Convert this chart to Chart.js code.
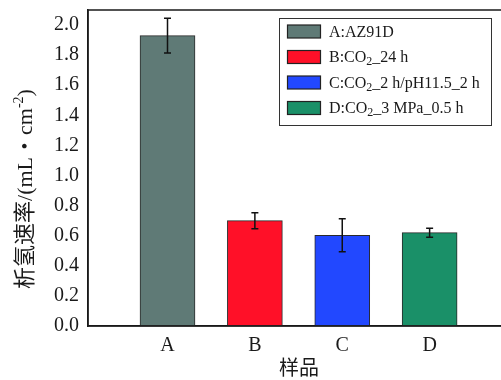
<!DOCTYPE html>
<html><head><meta charset="utf-8">
<script src="https://cdn.jsdelivr.net/npm/chart.js@4"></script>
<style>html,body{margin:0;padding:0;background:#fff;overflow:hidden;width:501px;height:380px}
#wrap{width:520px;height:380px;position:relative}</style></head>
<body><div id="wrap"><canvas id="c" width="520" height="380"></canvas></div>
<script>
// ---- data ----
const categories = ['A', 'B', 'C', 'D'];
const rates = [1.93, 0.70, 0.603, 0.62];
const errors = [0.115, 0.053, 0.11, 0.03];
const legendLabels = ['A:AZ91D', 'B:CO2_24 h', 'C:CO2_2 h/pH11.5_2 h', 'D:CO2_3 MPa_0.5 h'];
const yTickValues = [0.0, 0.2, 0.4, 0.6, 0.8, 1.0, 1.2, 1.4, 1.6, 1.8, 2.0];
const yTitle = ['析氢速率/(mL・cm', '-2', ')'];
const xTitle = '样品';

// ---- styles ----
const colors = ['#5f7a76', '#ff1028', '#2248ff', '#1a9068'];
const SERIF = "'Liberation Serif','Noto Sans CJK SC'";
const INK = '#1a1a1a';

function drawMixed(ctx, text, x, y, size) {
  const parts = text.split('CO2');
  let cx = x;
  parts.forEach((p, i) => {
    ctx.font = size + 'px ' + SERIF;
    ctx.fillText(p, cx, y); cx += ctx.measureText(p).width;
    if (i < parts.length - 1) {
      ctx.fillText('CO', cx, y); cx += ctx.measureText('CO').width;
      ctx.font = Math.round(size * 0.72) + 'px ' + SERIF;
      ctx.fillText('2', cx, y + 4); cx += ctx.measureText('2').width;
    }
  });
}

const extras = {
  id: 'extras',
  beforeDraw(chart) {
    const ctx = chart.ctx;
    ctx.save(); ctx.fillStyle = '#fff'; ctx.fillRect(0, 0, chart.width, chart.height); ctx.restore();
  },
  afterDatasetsDraw(chart) {
    const ctx = chart.ctx;
    const ys = chart.scales.y;
    const meta = chart.getDatasetMeta(0);
    ctx.save();
    ctx.strokeStyle = '#111'; ctx.lineWidth = 1.5;
    meta.data.forEach((bar, i) => {
      const yt = ys.getPixelForValue(rates[i] + errors[i]);
      const yb = ys.getPixelForValue(rates[i] - errors[i]);
      const x = bar.x;
      ctx.beginPath();
      ctx.moveTo(x, yt); ctx.lineTo(x, yb);
      ctx.moveTo(x - 3.5, yt); ctx.lineTo(x + 3.5, yt);
      ctx.moveTo(x - 3.5, yb); ctx.lineTo(x + 3.5, yb);
      ctx.stroke();
    });
    const a = chart.chartArea;
    ctx.strokeStyle = INK; ctx.lineWidth = 1.5;
    ctx.strokeRect(a.left, a.top, a.right - a.left, a.bottom - a.top);
    ctx.fillStyle = '#fff';
    ctx.fillRect(279.5, 18.5, 212, 107);
    ctx.strokeStyle = '#333'; ctx.lineWidth = 1;
    ctx.strokeRect(279.5, 18.5, 212, 107);
    legendLabels.forEach((lab, i) => {
      const cy = 31.5 + i * 25.5;
      ctx.fillStyle = colors[i];
      ctx.fillRect(287.5, cy - 6.5, 33, 13);
      ctx.strokeStyle = '#222'; ctx.lineWidth = 1.2;
      ctx.strokeRect(287.5, cy - 6.5, 33, 13);
      ctx.fillStyle = INK; ctx.textBaseline = 'middle'; ctx.textAlign = 'left';
      drawMixed(ctx, lab, 329, cy + 1, 16);
    });
    ctx.translate(26, 189); ctx.rotate(-Math.PI / 2);
    ctx.textBaseline = 'middle'; ctx.textAlign = 'left'; ctx.fillStyle = INK;
    const f1 = '22px ' + SERIF, f2 = '14px ' + SERIF;
    ctx.font = f1; const w1 = ctx.measureText(yTitle[0]).width, w3 = ctx.measureText(yTitle[2]).width;
    ctx.font = f2; const w2 = ctx.measureText(yTitle[1]).width;
    let sx = -(w1 + w2 + w3) / 2;
    ctx.font = f1; ctx.fillText(yTitle[0], sx, 0); sx += w1;
    ctx.font = f2; ctx.fillText(yTitle[1], sx, -7); sx += w2;
    ctx.font = f1; ctx.fillText(yTitle[2], sx, 0);
    ctx.restore();
  }
};

new Chart(document.getElementById('c'), {
  type: 'bar',
  data: {
    datasets: [{
      data: rates.map((v, i) => ({ x: i + 1, y: v })),
      backgroundColor: colors,
      borderColor: '#2a2a2a',
      borderWidth: 1,
      borderSkipped: false,
      barThickness: 55
    }]
  },
  options: {
    responsive: false,
    devicePixelRatio: 1,
    animation: false,
    events: [],
    layout: { padding: { top: 0, right: 10, left: 0, bottom: 0 } },
    plugins: { legend: { display: false }, tooltip: { enabled: false } },
    scales: {
      x: {
        type: 'linear', min: 0.09, max: 4.92, offset: false, bounds: 'data',
        grid: { display: false, drawTicks: false, offset: false },
        border: { color: INK, width: 1.5 },
        afterBuildTicks: s => { s.ticks = categories.map((c, i) => ({ value: i + 1 })); },
        afterFit: s => { s.height = 54; s.paddingLeft = 0; s.paddingRight = 0; },
        ticks: { font: { family: SERIF, size: 20 }, color: INK, padding: 8, autoSkip: false, maxRotation: 0,
          callback: v => categories[v - 1] ?? '' },
        title: { display: true, text: xTitle, font: { family: SERIF, size: 20 }, color: INK, padding: { top: 0, bottom: -2 } }
      },
      y: {
        min: 0, max: 2.1,
        grid: { display: false, drawTicks: false },
        border: { color: INK, width: 1.5 },
        afterBuildTicks: s => { s.ticks = yTickValues.map(v => ({ value: v })); },
        afterFit: s => { s.width = 88; s.paddingTop = 10; s.paddingBottom = 0; },
        ticks: { font: { family: SERIF, size: 20 }, color: INK, padding: 9, autoSkip: false,
          callback: v => v.toFixed(1) }
      }
    }
  },
  plugins: [extras]
});
</script></body></html>
